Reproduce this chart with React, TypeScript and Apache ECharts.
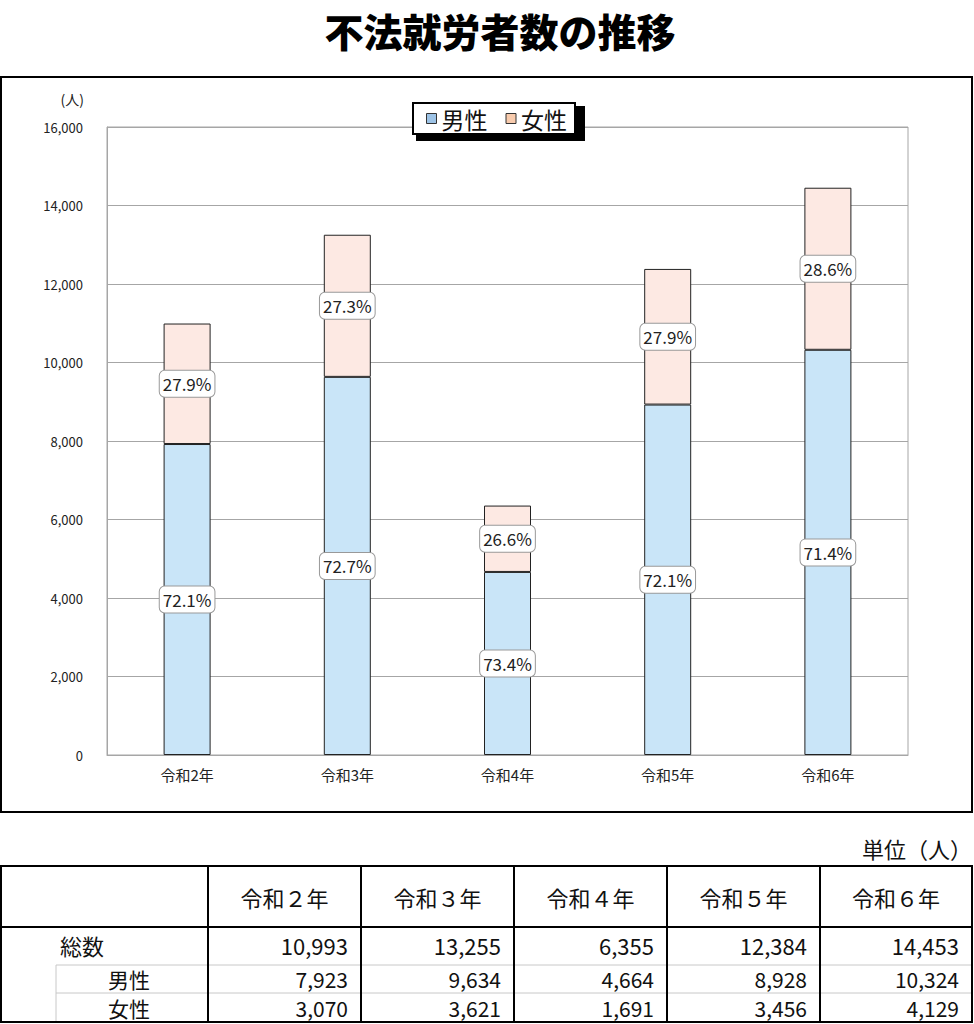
import React, { useEffect, useRef } from "react";
import * as echarts from "echarts";

const categories = ["令和2年", "令和3年", "令和4年", "令和5年", "令和6年"];
const tableHeaders = ["令和２年", "令和３年", "令和４年", "令和５年", "令和６年"];
const maleValues = [7923, 9634, 4664, 8928, 10324];
const femaleValues = [3070, 3621, 1691, 3456, 4129];
const totalValues = [10993, 13255, 6355, 12384, 14453];
const rowLabels = ["総数", "男性", "女性"];
const seriesNames = ["男性", "女性"];

const FONT = "'Noto Sans CJK JP', 'Noto Sans', sans-serif";
const fmt = (v: number) => v.toLocaleString("en-US");

export default function App() {
  const ref = useRef<HTMLDivElement>(null);
  useEffect(() => {
    document.body.style.margin = "0";
    const chart = echarts.init(ref.current!, undefined, { renderer: "svg" });

    // table geometry
    const colX = [1, 208, 361, 514, 667, 820, 972];
    const tTop = 866, hBottom = 927, r1 = 965, r2 = 993, tBottom = 1022;
    const g: any[] = [];
    const black = { stroke: "#000", lineWidth: 2 };
    const light = { stroke: "#c8c8c8", lineWidth: 1 };
    g.push({ type: "line", shape: { x1: 56, y1: r1, x2: 972, y2: r1 }, style: light });
    g.push({ type: "line", shape: { x1: 56, y1: r2, x2: 972, y2: r2 }, style: light });
    g.push({ type: "line", shape: { x1: 56, y1: r1, x2: 56, y2: tBottom }, style: light });
    [tTop, hBottom, tBottom].forEach((y) =>
      g.push({ type: "line", shape: { x1: 0, y1: y, x2: 973, y2: y }, style: black })
    );
    colX.forEach((x) =>
      g.push({ type: "line", shape: { x1: x, y1: tTop, x2: x, y2: tBottom }, style: black })
    );
    const ts = (extra: any) => ({ fontFamily: FONT, fontSize: 22, lineHeight: 22, fill: "#111", ...extra });
    tableHeaders.forEach((h, i) => {
      g.push({
        type: "text",
        x: (colX[i + 1] + colX[i + 2]) / 2,
        y: 897,
        style: ts({ text: h, align: "center", verticalAlign: "middle" }),
      });
    });
    const rowsY = [945, 979, 1008];
    const rowsX = [60, 108, 108];
    const rowSize = [22, 21, 21];
    const rowData = [totalValues, maleValues, femaleValues];
    rowLabels.forEach((lab, r) => {
      g.push({
        type: "text",
        x: rowsX[r],
        y: rowsY[r],
        style: ts({ text: lab, align: "left", verticalAlign: "middle", fontSize: rowSize[r], lineHeight: rowSize[r] }),
      });
      rowData[r].forEach((v, i) => {
        g.push({
          type: "text",
          x: colX[i + 2] - 13,
          y: rowsY[r],
          style: ts({ text: fmt(v), align: "right", verticalAlign: "middle", fontSize: rowSize[r], lineHeight: rowSize[r] }),
        });
      });
    });
    g.push({
      type: "text",
      x: 972,
      y: 848,
      style: ts({ text: "単位（人）", align: "right", verticalAlign: "middle" }),
    });
    // title
    g.push({
      type: "text",
      x: 500,
      y: 30,
      style: {
        text: "不法就労者数の推移",
        fontFamily: FONT,
        fontSize: 39,
        lineHeight: 39,
        fontWeight: 900,
        fill: "#000",
        align: "center",
        verticalAlign: "middle",
      },
    });
    // chart frame
    g.push({
      type: "rect",
      shape: { x: 1, y: 77, width: 971, height: 735 },
      style: { fill: "none", stroke: "#000", lineWidth: 2 },
    });
    // unit label
    g.push({
      type: "text",
      x: 84,
      y: 99,
      style: { text: "(人)", fontFamily: FONT, fontSize: 14, fill: "#222", align: "right", verticalAlign: "middle" },
    });
    // legend shadow
    g.push({
      type: "rect",
      z: 1,
      shape: { x: 416, y: 106, width: 169, height: 35 },
      style: { fill: "#000" },
    });

    const labelStyle = (vals: number[]) => ({
      show: true,
      position: "inside",
      formatter: (p: any) => ((vals[p.dataIndex] / totalValues[p.dataIndex]) * 100).toFixed(1) + "%",
      fontFamily: FONT,
      fontSize: 17,
      color: "#222",
      backgroundColor: "#fff",
      borderColor: "#999",
      borderWidth: 1,
      borderRadius: 5,
      padding: [5, 3, 4, 3],
    });

    chart.setOption({
      animation: false,
      textStyle: { fontFamily: FONT },
      grid: {
        left: 107,
        top: 127,
        width: 801,
        height: 628,
        show: true,
        borderColor: "#a6a6a6",
        borderWidth: 1,
      },
      legend: {
        data: [
          { name: seriesNames[0], itemStyle: { color: "#9dc3e6", borderColor: "#333", borderWidth: 1 } },
          { name: seriesNames[1], itemStyle: { color: "#f8cbad", borderColor: "#333", borderWidth: 1 } },
        ],
        left: 413,
        top: 103,
        z: 5,
        icon: "rect",
        itemWidth: 10,
        itemHeight: 10,
        itemGap: 18,
        padding: [4, 8, 4, 13],
        backgroundColor: "#fff",
        borderColor: "#000",
        borderWidth: 2,
        borderRadius: 0,
        textStyle: { fontFamily: FONT, fontSize: 23, color: "#111", padding: [0, 0, 0, 0] },
      },
      xAxis: {
        type: "category",
        data: categories,
        axisLine: { lineStyle: { color: "#a6a6a6" } },
        axisTick: { inside: true, length: 5, lineStyle: { color: "#a6a6a6" } },
        axisLabel: { fontFamily: FONT, fontSize: 15, color: "#222", margin: 12 },
      },
      yAxis: {
        type: "value",
        min: 0,
        max: 16000,
        interval: 2000,
        axisLine: { show: true, lineStyle: { color: "#a6a6a6" } },
        axisTick: { show: true, inside: true, length: 5, lineStyle: { color: "#a6a6a6" } },
        splitLine: { lineStyle: { color: "#a6a6a6" } },
        axisLabel: { fontFamily: FONT, fontSize: 13, color: "#222", margin: 24, formatter: (v: number) => fmt(v) },
      },
      series: [
        {
          name: seriesNames[0],
          type: "bar",
          stack: "total",
          barWidth: 47,
          data: maleValues,
          itemStyle: { color: "#c9e5f8", borderColor: "#222", borderWidth: 1 },
          label: labelStyle(maleValues),
        },
        {
          name: seriesNames[1],
          type: "bar",
          stack: "total",
          barWidth: 47,
          data: femaleValues,
          itemStyle: { color: "#fde9e3", borderColor: "#222", borderWidth: 1 },
          label: labelStyle(femaleValues),
        },
      ],
      graphic: g,
    });
    return () => chart.dispose();
  }, []);
  return <div ref={ref} style={{ width: 974, height: 1024 }} />;
}
